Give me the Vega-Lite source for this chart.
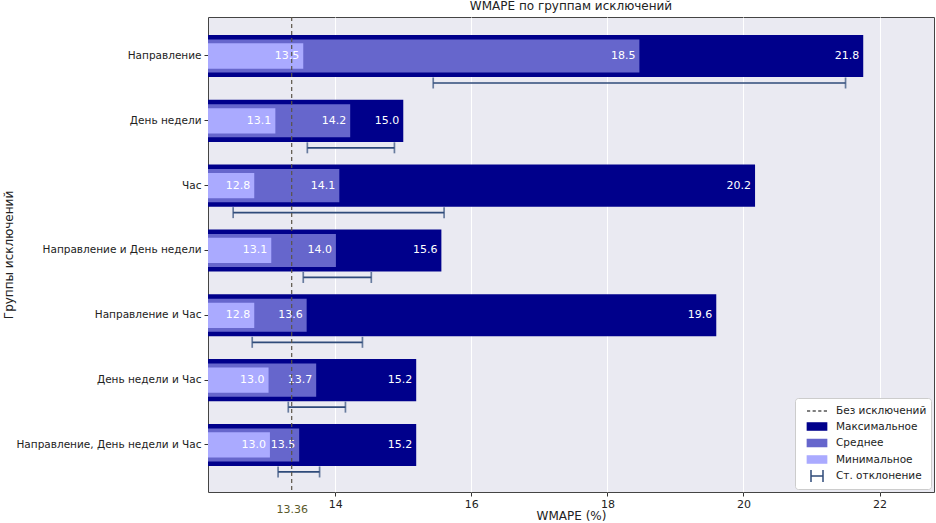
{
  "$schema": "https://vega.github.io/schema/vega-lite/v6.json",
  "width": 726,
  "height": 475,
  "autosize": {"type": "none"},
  "padding": {"left": 208, "top": 17, "right": 2, "bottom": 31},
  "background": "white",
  "title": {"text": "WMAPE по группам исключений", "fontSize": 12, "fontWeight": "normal", "color": "#222222", "offset": 3, "anchor": "middle", "frame": "group"},
  "config": {
    "font": "DejaVu Sans",
    "view": {"fill": "#eaeaf2", "stroke": "#444444", "strokeWidth": 1}
  },
  "datasets": {
    "groups": [
      {"group": "Направление", "max": 21.76, "mean": 18.47, "min": 13.53, "lo": 15.44, "hi": 21.50},
      {"group": "День недели", "max": 15.00, "mean": 14.22, "min": 13.12, "lo": 13.59, "hi": 14.87},
      {"group": "Час", "max": 20.17, "mean": 14.06, "min": 12.81, "lo": 12.50, "hi": 15.60},
      {"group": "Направление и День недели", "max": 15.56, "mean": 14.01, "min": 13.06, "lo": 13.53, "hi": 14.53},
      {"group": "Направление и Час", "max": 19.60, "mean": 13.58, "min": 12.81, "lo": 12.78, "hi": 14.40},
      {"group": "День недели и Час", "max": 15.19, "mean": 13.72, "min": 13.02, "lo": 13.31, "hi": 14.15},
      {"group": "Направление, День недели и Час", "max": 15.19, "mean": 13.47, "min": 13.04, "lo": 13.16, "hi": 13.77}
    ],
    "baseline": [{"wmape": 13.36}],
    "legendItems": [
      {"item": "Без исключений", "x": 13.36},
      {"item": "Максимальное", "x": 13.36},
      {"item": "Среднее", "x": 13.36},
      {"item": "Минимальное", "x": 13.36},
      {"item": "Ст. отклонение", "x": 13.36}
    ]
  },
  "data": {"name": "groups"},
  "layer": [
    {
      "mark": {"type": "bar", "color": "#00008b", "height": {"band": 0.65}, "clip": true},
      "encoding": {
        "y": {
          "field": "group", "type": "nominal", "sort": null, "title": "Группы исключений",
          "scale": {"type": "band", "paddingInner": 0, "paddingOuter": 0.1635, "align": 0.31},
          "axis": {"labelFontSize": 10.5, "labelColor": "#222222", "tickSize": 4, "tickColor": "#333333", "domain": false, "grid": false, "labelPadding": 3, "labelLimit": 300, "titleX": -200, "titleBaseline": "middle", "titleFontSize": 12, "titleFontWeight": "normal", "titleColor": "#222222"}
        },
        "x": {
          "field": "max", "type": "quantitative", "title": "WMAPE (%)",
          "scale": {"domain": [12.13, 22.8], "nice": false, "zero": false},
          "axis": {
            "values": [13.36, 14, 16, 18, 20, 22],
            "labelExpr": "datum.value < 13.5 ? '13.36' : format(datum.value, 'd')",
            "labelColor": {"condition": {"test": "datum.value < 13.5", "value": "#5b5a2c"}, "value": "#222222"},
            "labelPadding": {"condition": {"test": "datum.value < 13.5", "value": 7}, "value": 2},
            "gridColor": {"condition": {"test": "datum.value < 13.5", "value": "transparent"}, "value": "#ffffff"},
            "tickColor": {"condition": {"test": "datum.value < 13.5", "value": "transparent"}, "value": "#333333"},
            "grid": true, "gridWidth": 1, "domain": false, "tickSize": 4,
            "labelFontSize": 11, "labelOverlap": false, "labelFlush": false,
            "titleFontSize": 12, "titleFontWeight": "normal", "titleColor": "#222222", "titleY": 23, "titleBaseline": "middle"
          }
        }
      }
    },
    {
      "mark": {"type": "bar", "color": "#6666cc", "height": {"band": 0.51}, "clip": true},
      "encoding": {
        "y": {"field": "group", "type": "nominal", "sort": null, "title": "Группы исключений"},
        "x": {"field": "mean", "type": "quantitative", "title": "WMAPE (%)"}
      }
    },
    {
      "mark": {"type": "bar", "color": "#aaaaff", "height": {"band": 0.39}, "clip": true},
      "encoding": {
        "y": {"field": "group", "type": "nominal", "sort": null, "title": "Группы исключений"},
        "x": {"field": "min", "type": "quantitative", "title": "WMAPE (%)"}
      }
    },
    {
      "mark": {"type": "text", "color": "white", "align": "right", "baseline": "middle", "dx": -4, "fontSize": 11},
      "encoding": {
        "y": {"field": "group", "type": "nominal", "sort": null, "title": "Группы исключений"},
        "x": {"field": "max", "type": "quantitative", "title": "WMAPE (%)"},
        "text": {"field": "max", "type": "quantitative", "format": ".1f"}
      }
    },
    {
      "mark": {"type": "text", "color": "white", "align": "right", "baseline": "middle", "dx": -4, "fontSize": 11},
      "encoding": {
        "y": {"field": "group", "type": "nominal", "sort": null, "title": "Группы исключений"},
        "x": {"field": "mean", "type": "quantitative", "title": "WMAPE (%)"},
        "text": {"field": "mean", "type": "quantitative", "format": ".1f"}
      }
    },
    {
      "mark": {"type": "text", "color": "white", "align": "right", "baseline": "middle", "dx": -4, "fontSize": 11},
      "encoding": {
        "y": {"field": "group", "type": "nominal", "sort": null, "title": "Группы исключений"},
        "x": {"field": "min", "type": "quantitative", "title": "WMAPE (%)"},
        "text": {"field": "min", "type": "quantitative", "format": ".1f"}
      }
    },
    {
      "mark": {"type": "rule", "color": "#2f4b7a", "strokeWidth": 1.7, "yOffset": 27},
      "encoding": {
        "y": {"field": "group", "type": "nominal", "sort": null, "title": "Группы исключений"},
        "x": {"field": "lo", "type": "quantitative", "title": "WMAPE (%)"},
        "x2": {"field": "hi"}
      }
    },
    {
      "mark": {"type": "tick", "color": "#2f4b7a", "thickness": 1.7, "size": 11, "yOffset": 27},
      "encoding": {
        "y": {"field": "group", "type": "nominal", "sort": null, "title": "Группы исключений"},
        "x": {"field": "lo", "type": "quantitative", "title": "WMAPE (%)"}
      }
    },
    {
      "mark": {"type": "tick", "color": "#2f4b7a", "thickness": 1.7, "size": 11, "yOffset": 27},
      "encoding": {
        "y": {"field": "group", "type": "nominal", "sort": null, "title": "Группы исключений"},
        "x": {"field": "hi", "type": "quantitative", "title": "WMAPE (%)"}
      }
    },
    {
      "data": {"name": "baseline"},
      "mark": {"type": "rule", "color": "#5a5448", "strokeWidth": 1.2, "strokeDash": [4, 3]},
      "encoding": {
        "x": {"field": "wmape", "type": "quantitative", "title": "WMAPE (%)"}
      }
    },
    {
      "data": {"name": "legendItems"},
      "mark": {"type": "point", "opacity": 0, "strokeWidth": 1.5},
      "encoding": {
        "x": {"field": "x", "type": "quantitative", "title": "WMAPE (%)"},
        "fill": {
          "field": "item", "type": "nominal",
          "scale": {"domain": ["Без исключений", "Максимальное", "Среднее", "Минимальное", "Ст. отклонение"], "range": ["transparent", "#00008b", "#6666cc", "#aaaaff", "transparent"]},
          "legend": {"title": null, "orient": "bottom-right", "offset": 3, "fillColor": "white", "strokeColor": "#cccccc", "cornerRadius": 3, "padding": 4, "symbolOffset": 9, "symbolOpacity": 1, "symbolSize": 256, "symbolStrokeWidth": 1.5, "labelFontSize": 10.5, "labelColor": "#222222", "rowPadding": 0.5, "labelOffset": 10}
        },
        "stroke": {
          "field": "item", "type": "nominal",
          "scale": {"domain": ["Без исключений", "Максимальное", "Среднее", "Минимальное", "Ст. отклонение"], "range": ["#555555", "#00008b", "#6666cc", "#aaaaff", "#2f4b7a"]},
          "legend": {"title": null, "orient": "bottom-right", "offset": 3, "fillColor": "white", "strokeColor": "#cccccc", "cornerRadius": 3, "padding": 4, "symbolOffset": 9, "symbolOpacity": 1, "symbolSize": 256, "symbolStrokeWidth": 1.5, "labelFontSize": 10.5, "labelColor": "#222222", "rowPadding": 0.5, "labelOffset": 10}
        },
        "shape": {
          "field": "item", "type": "nominal",
          "scale": {"domain": ["Без исключений", "Максимальное", "Среднее", "Минимальное", "Ст. отклонение"], "range": ["M-1.25,0H-0.85M-0.55,0H-0.15M0.15,0H0.55M0.85,0H1.25", "M-1.2,-0.45H1.2V0.45H-1.2Z", "M-1.2,-0.45H1.2V0.45H-1.2Z", "M-1.2,-0.45H1.2V0.45H-1.2Z", "M-0.75,-0.75V0.75M-0.75,0H0.75M0.75,-0.75V0.75"]},
          "legend": {"title": null, "orient": "bottom-right", "offset": 3, "fillColor": "white", "strokeColor": "#cccccc", "cornerRadius": 3, "padding": 4, "symbolOffset": 9, "symbolOpacity": 1, "symbolSize": 256, "symbolStrokeWidth": 1.5, "labelFontSize": 10.5, "labelColor": "#222222", "rowPadding": 0.5, "labelOffset": 10}
        }
      }
    }
  ]
}
